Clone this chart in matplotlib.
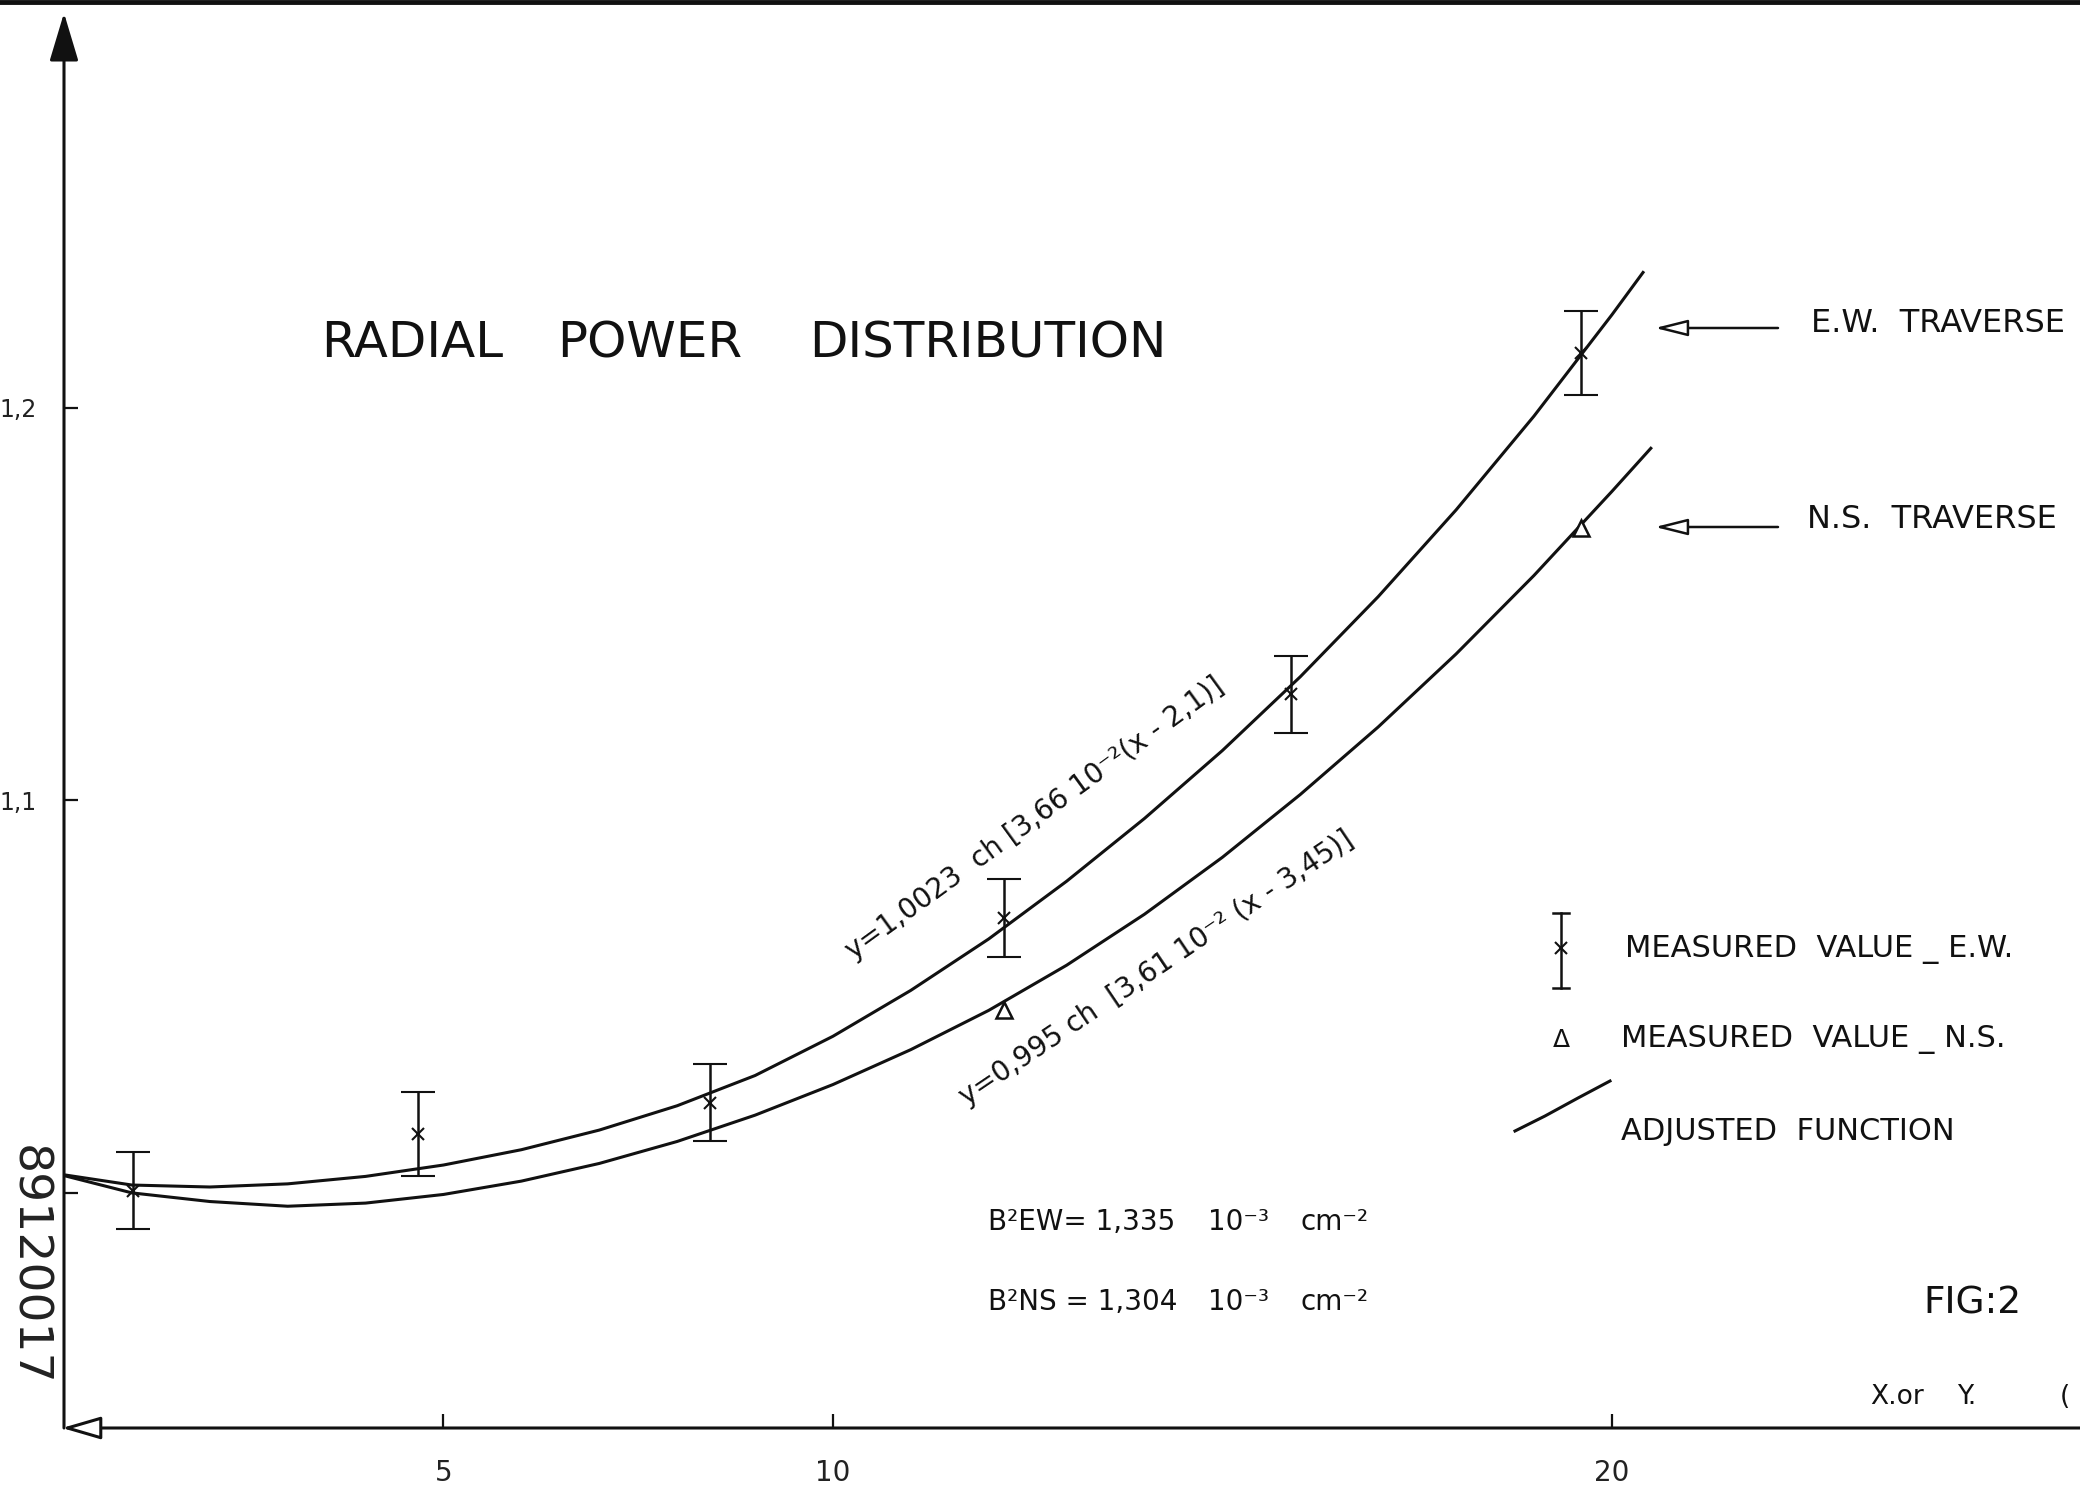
import matplotlib
matplotlib.use("Agg")
import matplotlib.pyplot as plt

# --------- DATA ---------
# measured values, E.W. traverse (x marker + error bar)
EW_X = [1.01, 4.67, 8.42, 12.2, 15.88, 19.6]
EW_Y = [1.0005, 1.015, 1.023, 1.070, 1.127, 1.214]
EW_ERR = [0.0098, 0.0108, 0.0098, 0.0100, 0.0098, 0.0106]

# measured values, N.S. traverse (triangles)
NS_X = [12.2, 19.6]
NS_Y = [1.0465, 1.1695]

# adjusted functions, as drawn on the sheet
EW_CURVE_X = [0.13, 1, 2, 3, 4, 5, 6, 7, 8, 9, 10, 11, 12, 13, 14, 15, 16, 17, 18, 19, 20, 20.4]
EW_CURVE_Y = [1.0046, 1.0020, 1.0015, 1.0023, 1.0042, 1.0071, 1.0110, 1.0160, 1.0222, 1.0299,
              1.0399, 1.0516, 1.0647, 1.0794, 1.0954, 1.1127, 1.1315, 1.1519, 1.1740, 1.1979,
              1.2237, 1.2345]
NS_CURVE_X = [0.13, 1, 2, 3, 4, 5, 6, 7, 8, 9, 10, 11, 12, 13, 14, 15, 16, 17, 18, 19, 20, 20.5]
NS_CURVE_Y = [1.0044, 1.0000, 0.9978, 0.9966, 0.9974, 0.9996, 1.0030, 1.0075, 1.0131, 1.0198,
              1.0276, 1.0365, 1.0465, 1.0580, 1.0710, 1.0855, 1.1015, 1.1187, 1.1373, 1.1573,
              1.1787, 1.1897]

X_TICKS = [5, 10, 20]
X_TICK_LABELS = ["5", "10", "20"]
Y_TICKS = [1.0, 1.1, 1.2]
Y_TICK_LABELS = ["", "1,1", "1,2"]

EW_FORMULA = "y=1,0023  ch [3,66 10⁻²(x - 2,1)]"
NS_FORMULA = "y=0,995 ch  [3,61 10⁻² (x - 3,45)]"
# -----------------------------------------------------

W, H = 2080, 1492
INK = "#111111"


def px_text(ov, x, y, s, size, ha="left", va="center", **kw):
    # overlay axes uses pixel coordinates of the sheet (y downwards)
    ov.text(x, y, s, fontsize=size, color=INK, ha=ha, va=va, **kw)


def px_arrow(ov, x0, y0, x1, y1, style, fc=INK, lw=2.0):
    ov.annotate("", xy=(x1, y1), xytext=(x0, y0),
                arrowprops=dict(arrowstyle=style, mutation_scale=20, lw=lw,
                                ec=INK, fc=fc, shrinkA=0, shrinkB=0))


def main():
    fig = plt.figure(figsize=(W / 100, H / 100), dpi=100)
    fig.patch.set_facecolor("white")

    # main axes: left spine at x=64 px, x axis at y=1428 px, top at y=13 px
    ax = fig.add_axes([64 / W, (H - 1428) / H, (W - 64) / W, (1428 - 13) / H])
    ax.patch.set_visible(False)
    ax.set_xlim(0.128, 26.01)
    ax.set_ylim(0.9401, 1.3006)
    for sp in ax.spines.values():
        sp.set_visible(False)

    ax.plot(EW_CURVE_X, EW_CURVE_Y, color=INK, lw=2.2)
    ax.plot(NS_CURVE_X, NS_CURVE_Y, color=INK, lw=2.2)
    ax.errorbar(EW_X, EW_Y, yerr=EW_ERR, fmt="x", ms=8, mew=1.5, color=INK,
                ecolor=INK, elinewidth=1.8, capsize=12, capthick=1.8, zorder=4)
    ax.plot(NS_X, NS_Y, "^", ms=12, mfc="white", mec=INK, mew=1.8, zorder=4)

    ax.set_xticks(X_TICKS)
    ax.set_xticklabels(X_TICK_LABELS, fontsize=20, color="#222222")
    ax.set_yticks(Y_TICKS)
    ax.set_yticklabels(Y_TICK_LABELS, fontsize=17, color="#222222")
    ax.tick_params(axis="both", direction="in", length=10, width=1.6, color=INK)
    ax.tick_params(axis="x", pad=22, top=False)
    ax.tick_params(axis="y", pad=20, right=False)

    # overlay in sheet pixels for axis arrows and lettering
    ov = fig.add_axes([0, 0, 1, 1])
    ov.set_xlim(0, W)
    ov.set_ylim(H, 0)
    ov.axis("off")

    # top border of the sheet
    ov.plot([0, W], [2, 2], color=INK, lw=3.5)

    # axes with arrow heads
    px_arrow(ov, 64, 1428, 64, 13, "-|>,head_length=1.5,head_width=0.45", lw=2.2)
    px_arrow(ov, W, 1428, 62, 1428, "-|>,head_length=1.2,head_width=0.35", fc="white", lw=2.2)

    # title
    px_text(ov, 321, 343, "RADIAL", 36)
    px_text(ov, 557, 343, "POWER", 36)
    px_text(ov, 809, 343, "DISTRIBUTION", 36)

    # traverse labels with arrows
    px_text(ov, 1811, 323, "E.W.  TRAVERSE", 23)
    px_arrow(ov, 1778, 328, 1655, 328, "-|>,head_length=1.0,head_width=0.25",
             fc="white", lw=1.8)
    px_text(ov, 1807, 520, "N.S.  TRAVERSE", 23)
    px_arrow(ov, 1778, 527, 1655, 527, "-|>,head_length=1.0,head_width=0.25",
             fc="white", lw=1.8)

    # formulas along the curves
    px_text(ov, 1035, 818, EW_FORMULA, 20, ha="center", rotation=36,
            rotation_mode="anchor")
    px_text(ov, 1157, 968, NS_FORMULA, 20, ha="center", rotation=34,
            rotation_mode="anchor")

    # key
    ov.plot([1561, 1561], [913, 988], color=INK, lw=1.8)
    ov.plot([1553, 1569], [913, 913], color=INK, lw=1.8)
    ov.plot([1553, 1569], [988, 988], color=INK, lw=1.8)
    ov.plot([1561], [948], "x", ms=8, mew=1.5, color=INK)
    px_text(ov, 1625, 950, "MEASURED  VALUE _ E.W.", 22)
    px_text(ov, 1561, 1040, "Δ", 18, ha="center")
    px_text(ov, 1621, 1040, "MEASURED  VALUE _ N.S.", 22)
    ov.plot([1515, 1545, 1578, 1610], [1131, 1116, 1098, 1081], color=INK, lw=2.2)
    px_text(ov, 1621, 1131, "ADJUSTED  FUNCTION", 22)

    # buckling values
    px_text(ov, 988, 1222, "B²EW= 1,335", 20)
    px_text(ov, 1208, 1222, "10⁻³", 20)
    px_text(ov, 1300, 1222, "cm⁻²", 20)
    px_text(ov, 988, 1302, "B²NS = 1,304", 20)
    px_text(ov, 1208, 1302, "10⁻³", 20)
    px_text(ov, 1300, 1302, "cm⁻²", 20)

    px_text(ov, 1923, 1304, "FIG:2", 27)
    px_text(ov, 1870, 1397, "X.or", 19)
    px_text(ov, 1957, 1397, "Y.", 19)
    px_text(ov, 2060, 1397, "(", 19)

    # archive number stamped along the left edge
    ov.text(28, 1265, "89120017", fontsize=34, color="#222222", rotation=-90,
            ha="center", va="center")

    fig.savefig("out.png", dpi=100)
    plt.close(fig)


if __name__ == "__main__":
    main()
